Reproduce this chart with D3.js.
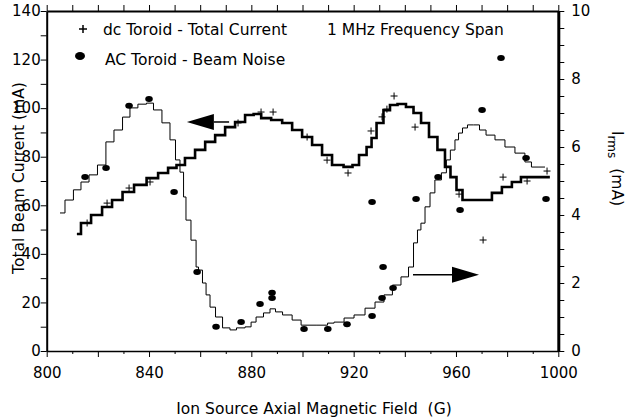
<!DOCTYPE html>
<html lang="en">
<head>
<meta charset="utf-8">
<title>Total Beam Current and Beam Noise vs Magnetic Field</title>
<script src="https://d3js.org/d3.v7.min.js"></script>
<style>
  body { margin: 0; background: #fff; font-family: "DejaVu Sans", Verdana, sans-serif; }
  .axis text { font-size: 15px; fill: #000; font-family: "DejaVu Sans", Verdana, sans-serif; }
  .axis line { stroke: #000; }
  .axis path { stroke: #000; stroke-width: 2; }
  .lbl { font-size: 15.5px; fill: #000; }
</style>
</head>
<body>
<div id="chart"></div>
<script>
// dc toroid total current trace (left axis, mA)
var totalField = [811.8, 815.0, 819.7, 823.6, 827.5, 831.8, 836.5, 841.6, 845.5, 849.4, 852.1, 856.0, 860.0, 863.9,
  867.8, 871.7, 875.6, 879.5, 882.3, 885.4, 890.1, 894.0, 897.9, 901.8, 905.7, 909.6, 913.5, 918.6, 920.5, 923.7,
  926.4, 927.6, 930.3, 933.0, 935.4, 938.9, 942.0, 944.8, 947.9, 951.0, 954.5, 956.9, 958.8, 961.6, 963.5, 972.1,
  976.0, 979.9, 983.8, 987.0, 996.7];
var totalCurrent = [48.2, 52.7, 56.0, 59.3, 62.2, 65.5, 68.4, 71.2, 73.3, 75.4, 76.6, 79.5, 82.8, 86.1,
  88.9, 92.2, 94.3, 97.2, 97.6, 95.9, 95.1, 93.9, 91.0, 88.1, 84.8, 80.7, 76.6, 75.8, 76.6, 80.7,
  84.0, 87.7, 93.9, 99.2, 101.3, 101.7, 100.5, 98.0, 93.9, 88.1, 82.8, 75.8, 71.6, 66.3, 62.2, 62.2,
  65.1, 67.5, 69.6, 71.6, 71.6];

// AC toroid beam noise trace (right axis, mA rms)
var noiseField = [805.2, 809.1, 811.8, 815.0, 818.1, 821.6, 824.7, 827.9, 831.4, 833.7, 837.6, 840.4, 843.1, 847.0,
  849.4, 851.3, 852.9, 854.1, 854.8, 858.0, 858.8, 859.9, 861.9, 862.7, 865.0, 867.0, 870.5, 872.8, 875.6, 879.5,
  880.3, 883.4, 886.1, 888.5, 890.4, 894.0, 897.9, 901.0, 909.6, 910.0, 914.7, 917.8, 922.5, 926.4, 930.3, 933.4,
  936.9, 940.1, 942.8, 944.0, 945.9, 946.7, 949.1, 950.6, 952.9, 955.7, 956.8, 958.8, 960.4, 961.6, 963.5, 965.5,
  968.2, 970.2, 973.3, 977.2, 981.1, 985.0, 988.9, 990.1, 994.8];
var noiseLevel = [4.06, 4.44, 4.74, 4.97, 5.18, 5.47, 6.15, 6.50, 6.88, 7.15, 7.26, 7.29, 7.09, 6.71,
  6.21, 5.62, 5.26, 4.53, 3.85, 3.26, 2.47, 2.38, 2.00, 1.65, 1.29, 1.00, 0.68, 0.62, 0.68, 0.71,
  0.85, 1.00, 1.12, 1.24, 1.15, 1.06, 0.91, 0.76, 0.76, 0.82, 0.85, 0.97, 1.06, 1.26, 1.44, 1.65,
  1.94, 2.18, 2.47, 3.18, 3.56, 3.76, 4.24, 4.65, 5.03, 5.24, 5.62, 5.91, 6.21, 6.41, 6.56, 6.65,
  6.65, 6.50, 6.35, 6.21, 6.00, 5.82, 5.56, 5.41, 5.41];

// individual dc toroid readings (+)
var dcField = [815.8, 823.6, 832.2, 840.4, 874.8, 883.8, 888.5, 901.8, 909.6, 917.8, 926.8, 931.1, 933.0, 935.8,
  944.0, 961.2, 970.6, 978.4, 987.8, 995.6];
var dcCurrent = [52.7, 60.9, 67.1, 69.6, 93.9, 98.4, 98.4, 88.1, 78.6, 73.3, 90.6, 96.4, 99.6, 105.0,
  92.2, 64.6, 45.7, 71.6, 70.0, 74.1];

// individual AC toroid readings (ellipses)
var acField = [815.0, 823.2, 832.2, 840.0, 849.8, 858.8, 866.2, 876.0, 883.4, 888.1, 888.1, 900.6, 909.9, 917.4,
  927.2, 931.1, 931.5, 935.4, 927.2, 944.4, 953.0, 961.6, 970.2, 977.6, 987.4, 995.2];
var acNoise = [5.12, 5.38, 7.21, 7.41, 4.68, 2.32, 0.71, 0.85, 1.38, 1.71, 1.56, 0.65, 0.65, 0.79,
  1.03, 1.56, 2.47, 1.85, 4.38, 4.47, 5.12, 4.15, 7.09, 8.62, 5.68, 4.47];

var xTicks = [800, 840, 880, 920, 960, 1000];
var leftTicks = [0, 20, 40, 60, 80, 100, 120, 140];
var rightTicks = [0, 2, 4, 6, 8, 10];

// arrows: [from field, to field, value]
var leftArrow = [871.3, 854.8, 94.3];
var rightArrow = [943.2, 969.0, 2.24];

var W = 626, H = 420;
var margin = {top: 11, left: 46.7, right: 67.7, bottom: 69};
var width = W - margin.left - margin.right,
    height = H - margin.top - margin.bottom;

var svg = d3.select("#chart").append("svg")
    .attr("width", W).attr("height", H);
var g = svg.append("g").attr("transform", "translate(" + margin.left + "," + margin.top + ")");

var x = d3.scaleLinear().domain([800, 1000]).range([0, width]);
var yL = d3.scaleLinear().domain([0, 140]).range([height, 0]);
var yR = d3.scaleLinear().domain([0, 10]).range([height, 0]);

var tens = d3.range(800, 1001, 10);

// top axis
g.append("g").attr("class", "axis")
  .call(d3.axisTop(x).tickValues(tens).tickSize(6).tickSizeOuter(0).tickFormat(""));

// bottom axis
var bx = g.append("g").attr("class", "axis")
  .attr("transform", "translate(0," + height + ")")
  .call(d3.axisBottom(x).tickValues(tens).tickSize(6).tickSizeOuter(0)
    .tickFormat(function(d) { return xTicks.indexOf(d) >= 0 ? d : ""; }));
bx.select(".domain").style("stroke-width", 1.5);
bx.selectAll(".tick line").attr("y2", function(d) { return d % 20 === 0 ? 6 : 3; });
bx.selectAll(".tick text").attr("y", 16);

// left axis
g.append("g").attr("class", "axis")
  .call(d3.axisLeft(yL).tickValues(d3.range(0, 141, 10)).tickSize(6).tickPadding(0).tickSizeOuter(0)
    .tickFormat(function(d) { return leftTicks.indexOf(d) >= 0 ? d : ""; }));

// right axis
g.append("g").attr("class", "axis")
  .attr("transform", "translate(" + width + ",0)")
  .call(d3.axisRight(yR).tickValues(d3.range(0, 10.01, 0.5)).tickSize(6).tickPadding(7).tickSizeOuter(0)
    .tickFormat(function(d) { return rightTicks.indexOf(d) >= 0 ? d : ""; }))
  .select(".domain").style("stroke-width", 3);

var totalLine = d3.line().curve(d3.curveStep)
  .x(function(d, i) { return x(totalField[i]); })
  .y(function(d) { return yL(d); });
g.append("path").datum(totalCurrent)
  .attr("d", totalLine).attr("fill", "none").attr("stroke", "#000").attr("stroke-width", 2.6);

var noiseLine = d3.line().curve(d3.curveStep)
  .x(function(d, i) { return x(noiseField[i]); })
  .y(function(d) { return yR(d); });
g.append("path").datum(noiseLevel)
  .attr("d", noiseLine).attr("fill", "none").attr("stroke", "#000").attr("stroke-width", 1);

// markers
function plus(cx, cy, s) {
  return "M" + (cx - s) + "," + cy + "H" + (cx + s) + "M" + cx + "," + (cy - s) + "V" + (cy + s);
}
g.append("g").selectAll("path").data(dcCurrent).enter().append("path")
  .attr("d", function(d, i) { return plus(x(dcField[i]), yL(d), 3.5); })
  .attr("stroke", "#000").attr("stroke-width", 1);

g.append("g").selectAll("ellipse").data(acNoise).enter().append("ellipse")
  .attr("cx", function(d, i) { return x(acField[i]); })
  .attr("cy", function(d) { return yR(d); })
  .attr("rx", 3.8).attr("ry", 3)
  .attr("fill", "#000");

// arrows
function arrow(a, yScale) {
  var x0 = x(a[0]), x1 = x(a[1]), yy = yScale(a[2]);
  var dir = x1 > x0 ? 1 : -1;
  var head = 27 * dir;
  g.append("line").attr("x1", x0).attr("x2", x1 - head).attr("y1", yy).attr("y2", yy)
    .attr("stroke", "#000").attr("stroke-width", 1.5);
  g.append("path")
    .attr("d", "M" + x1 + "," + yy + "L" + (x1 - head) + "," + (yy - 8) + "L" + (x1 - head) + "," + (yy + 8) + "Z")
    .attr("fill", "#000");
}
arrow(leftArrow, yL);
arrow(rightArrow, yR);

// legend
svg.append("path").attr("d", plus(83, 29, 4)).attr("stroke", "#000").attr("stroke-width", 1.5);
svg.append("text").attr("class", "lbl").attr("x", 103).attr("y", 35).text("dc Toroid - Total Current");
svg.append("ellipse").attr("cx", 80).attr("cy", 56).attr("rx", 5).attr("ry", 4).attr("fill", "#000");
svg.append("text").attr("class", "lbl").attr("x", 105).attr("y", 65).text("AC Toroid - Beam Noise");
svg.append("text").attr("class", "lbl").attr("x", 327).attr("y", 35).text("1 MHz Frequency Span");

// axis titles
svg.append("text").attr("class", "lbl")
  .attr("transform", "translate(24,178) rotate(-90)")
  .attr("text-anchor", "middle")
  .text("Total Beam Current (mA)");

var rt = svg.append("text").attr("class", "lbl")
  .attr("transform", "translate(612,131) rotate(90)");
rt.append("tspan").text("I");
rt.append("tspan").attr("dy", 4).style("font-size", "12px").text("rms");
rt.append("tspan").attr("dy", -4).attr("dx", 10).text("(mA)");

svg.append("text").attr("class", "lbl")
  .attr("x", 314).attr("y", 414)
  .attr("text-anchor", "middle")
  .style("white-space", "pre")
  .text("Ion Source Axial Magnetic Field  (G)");
</script>
</body>
</html>
